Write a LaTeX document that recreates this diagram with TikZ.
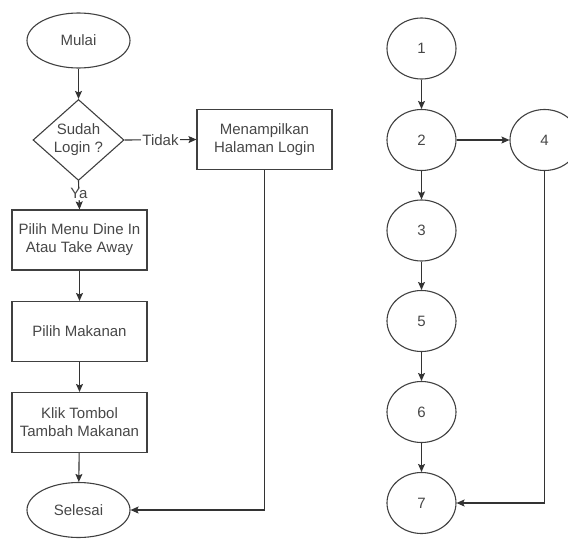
\documentclass[tikz,border=0pt]{standalone}
\usepackage{fontspec}
\setmainfont{Liberation Sans}
\usetikzlibrary{shapes.geometric,arrows.meta}
\begin{document}
\begin{tikzpicture}[x=1pt,y=-1pt,
  every node/.style={font=\fontsize{15}{18}\selectfont, text=black!72},
  base/.style={draw=black!75, line width=1.1pt, inner sep=0pt, align=center},
  term/.style={base, ellipse, minimum width=103pt, minimum height=55pt},
  proc/.style={base, rectangle, minimum width=135pt, minimum height=60pt},
  dec/.style={base, diamond, minimum width=91pt, minimum height=81pt, aspect=1.12},
  circ/.style={base, ellipse, minimum width=69pt, minimum height=61pt},
  conn/.style={draw=black!80, line width=1.1pt, -{Stealth[length=8pt,width=7pt,inset=1.5pt]}},
  lab/.style={fill=white, inner sep=1pt}
]
\useasboundingbox (0,0) rectangle (568,541);
\clip (0,0) rectangle (568,541);
% left flowchart
\node[term] (mulai) at (78.5,40.5) {Mulai};
\node[dec] (login) at (78.5,140) {Sudah\\Login ?};
\node[proc] (halaman) at (264.5,139.5) {Menampilkan\\Halaman Login};
\node[proc] (menu) at (79.5,240) {Pilih Menu Dine In\\Atau Take Away};
\node[proc] (makan) at (79.5,331.5) {Pilih Makanan};
\node[proc] (klik) at (79.5,422.5) {Klik Tombol\\Tambah Makanan};
\node[term] (selesai) at (78.5,510) {Selesai};
\draw[conn] (mulai) -- (login);
\draw[conn] (login.east) -- node[lab] {Tidak} (halaman.west);
\draw[conn] (login.south) -- node[lab, pos=0.45] {Ya} (menu.north);
\draw[conn] (menu) -- (makan);
\draw[conn] (makan) -- (klik);
\draw[conn] (klik) -- (selesai);
\draw[conn] (halaman.south) |- (selesai.east);
% right graph
\node[circ] (n1) at (421.5,48.5) {1};
\node[circ] (n2) at (421.5,140) {2};
\node[circ] (n4) at (544.5,140) {4};
\node[circ] (n3) at (421.5,230.5) {3};
\node[circ] (n5) at (421.5,321) {5};
\node[circ] (n6) at (421.5,412) {6};
\node[circ] (n7) at (421.5,503) {7};
\draw[conn] (n1) -- (n2);
\draw[conn] (n2) -- (n4);
\draw[conn] (n2) -- (n3);
\draw[conn] (n3) -- (n5);
\draw[conn] (n5) -- (n6);
\draw[conn] (n6) -- (n7);
\draw[conn] (n4.south) |- (n7.east);
\end{tikzpicture}
\end{document}
